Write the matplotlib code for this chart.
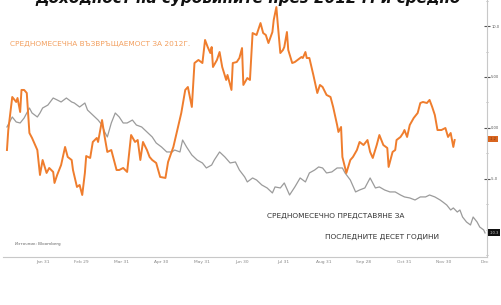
import matplotlib
matplotlib.use("Agg")
import matplotlib.pyplot as plt
from matplotlib.ticker import MultipleLocator

# ---- data (day of year 2012, value in %) ----
orange_days = [4, 5, 8, 11, 12, 14, 15, 17, 19, 20, 21, 23, 27, 29, 31, 34, 36, 39, 40, 42,
               45, 48, 50, 53, 54, 57, 59, 61, 63, 64, 67, 69, 72, 73, 76, 78, 80, 83, 87, 89,
               92, 95, 98, 101, 103, 105, 107, 110, 112, 114, 117, 120, 124, 126, 130, 133, 136, 139, 141, 144,
               146, 149, 152, 154, 156, 158, 159, 160, 163, 165, 167, 170, 171, 174, 175, 178, 180, 182, 183, 186,
               188, 190, 193, 196, 198, 200, 202, 205, 206, 208, 209, 211, 213, 214, 216, 217, 220, 222, 224, 227,
               228, 230, 231, 233, 236, 239, 241, 243, 246, 249, 251, 254, 255, 257, 258, 261, 264, 266, 269, 271,
               274, 277, 279, 281, 284, 286, 289, 292, 293, 296, 298, 299, 302, 304, 305, 307, 309, 312, 315, 317,
               319, 322, 324, 326, 328, 330, 333, 336, 338, 340, 342, 343]
orange_vals = [-2.16, -0.20, 3.04, 2.55, 2.94, 1.57, 3.73, 3.73, 3.43, 1.47, -0.49, -0.98, -2.16, -4.61, -3.14, -4.41, -3.92, -4.31, -5.39, -4.61,
               -3.63, -1.86, -2.84, -3.14, -4.12, -5.78, -5.59, -6.57, -4.41, -2.75, -2.94, -1.37, -0.98, -1.37, 0.78, -0.88, -2.35, -2.16, -4.12, -4.12,
               -3.92, -4.31, -0.69, -1.37, -1.18, -3.14, -1.37, -2.16, -2.84, -3.14, -3.43, -4.80, -4.90, -3.33, -1.86, -0.20, 1.47, 3.73, 4.02, 2.06,
               6.37, 6.67, 6.37, 8.63, 7.94, 7.35, 7.94, 5.98, 6.67, 7.45, 5.98, 4.71, 5.20, 3.73, 6.37, 6.47, 6.86, 7.84, 4.22, 4.90,
               4.71, 9.31, 9.12, 10.29, 9.31, 9.12, 8.33, 9.41, 10.59, 11.86, 10.29, 7.35, 7.65, 7.94, 9.41, 7.65, 6.37, 6.47, 6.67, 6.96,
               6.86, 7.45, 6.86, 6.86, 5.20, 3.43, 4.22, 4.02, 3.24, 3.04, 2.06, 0.29, -0.39, 0.10, -2.84, -4.41, -3.14, -2.84, -2.16, -1.37,
               -1.67, -1.18, -2.35, -2.94, -1.67, -0.69, -1.67, -1.96, -3.82, -2.35, -2.16, -1.18, -0.88, -0.49, -0.20, -0.88, 0.29, 0.98, 1.47, 2.45,
               2.55, 2.45, 2.75, 2.06, 1.27, -0.20, -0.20, 0.00, -0.88, -0.49, -1.86, -1.18]

gray_days = [4, 8, 11, 14, 17, 21, 23, 27, 29, 31, 35, 39, 42, 45, 49, 53, 55, 59, 63, 65,
             69, 73, 76, 78, 80, 83, 86, 89, 92, 95, 99, 102, 106, 110, 114, 117, 121, 125, 129, 131,
             135, 137, 140, 144, 148, 152, 155, 159, 161, 165, 169, 173, 177, 180, 184, 186, 190, 193, 197, 201,
             205, 207, 211, 214, 218, 222, 226, 230, 233, 237, 240, 243, 246, 250, 254, 258, 260, 264, 268, 271,
             275, 279, 283, 286, 290, 294, 298, 302, 305, 309, 313, 317, 321, 324, 328, 332, 334, 337, 340, 342,
             345, 347, 349, 352, 355, 357, 360, 362, 365, 366]
gray_vals = [0.10, 1.08, 0.59, 0.49, 0.98, 1.96, 1.47, 1.08, 1.47, 1.96, 2.25, 2.94, 2.75, 2.55, 2.94, 2.55, 2.45, 2.06, 2.45, 1.76,
             1.27, 0.78, 0.29, -0.39, -0.88, 0.49, 1.47, 1.08, 0.49, 0.49, 0.78, 0.29, 0.10, -0.39, -0.88, -1.47, -1.86, -2.35, -2.35, -2.16,
             -2.35, -1.18, -1.86, -2.65, -3.14, -3.43, -3.92, -3.63, -3.14, -2.35, -2.84, -3.43, -3.33, -4.12, -4.80, -5.29, -4.90, -5.10, -5.59, -5.88,
             -6.37, -5.78, -5.88, -5.39, -6.57, -5.78, -4.90, -5.29, -4.41, -4.12, -3.82, -3.92, -4.41, -4.31, -3.92, -3.92, -4.41, -5.10, -6.27, -6.08,
             -5.88, -4.90, -5.88, -5.78, -6.08, -6.27, -6.27, -6.57, -6.76, -6.86, -7.06, -6.76, -6.76, -6.57, -6.76, -7.06, -7.25, -7.55, -8.04, -7.84,
             -8.24, -8.04, -8.73, -9.22, -9.51, -8.73, -9.22, -9.71, -10.00, -10.29]

month_end_days = [31, 60, 91, 121, 152, 182, 213, 244, 274, 305, 335, 366]
month_labels = ["Jan 31", "Feb 29", "Mar 31", "Apr 30", "May 31", "Jun 30",
                "Jul 31", "Aug 31", "Sep 28", "Oct 31", "Nov 30", "Dec"]
ytick_vals = [10, 5, 0, -5]
ytick_labels = ["10.0", "5.00", "0.00", "-5.0"]

ORANGE = "#ef7d2d"
GRAY = "#9b9b9b"

fig = plt.figure(figsize=(5.01, 3.05), dpi=100)
ax = fig.add_axes([3 / 501, 1 - 257 / 305, 484 / 501, 257 / 305])

ax.plot(gray_days, gray_vals, color=GRAY, lw=0.9, zorder=2)
ax.plot(orange_days, orange_vals, color=ORANGE, lw=1.4, zorder=3)

ax.set_xlim(1, 367.5)
ax.set_ylim(-12.65, 12.55)

for s in ["top", "left"]:
    ax.spines[s].set_visible(False)
ax.spines["right"].set_color("#c8c8c8")
ax.spines["bottom"].set_color("#c8c8c8")
ax.spines["right"].set_linewidth(0.8)
ax.spines["bottom"].set_linewidth(0.8)

ax.yaxis.tick_right()
ax.set_yticks(ytick_vals)
ax.set_yticklabels(ytick_labels)
ax.yaxis.set_minor_locator(MultipleLocator(2.5))
ax.tick_params(axis="y", which="major", direction="inout", length=4, width=0.8,
               colors="#555555", labelsize=2.6, pad=1)
ax.tick_params(axis="y", which="minor", direction="inout", length=2, width=0.5, colors="#999999")

ax.set_xticks(month_end_days)
ax.set_xticklabels(month_labels)
ax.tick_params(axis="x", length=0, labelsize=3.2, colors="#888888", pad=2)

# last-value markers on the right axis
ax.annotate("-1.2", xy=(1.0, orange_vals[-1] + 0.1), xycoords=("axes fraction", "data"),
            xytext=(2, 0), textcoords="offset points", va="center", ha="left", fontsize=2.6,
            color="#7a3a10",
            bbox=dict(boxstyle="square,pad=0.4", fc="#d9651f", ec="none"), annotation_clip=False)
ax.annotate("-10.3", xy=(1.0, gray_vals[-1]), xycoords=("axes fraction", "data"),
            xytext=(2, 0), textcoords="offset points", va="center", ha="left", fontsize=2.6,
            color="#cccccc",
            bbox=dict(boxstyle="square,pad=0.4", fc="#111111", ec="none"), annotation_clip=False)

narrow = ["Liberation Sans Narrow", "DejaVu Sans"]
fig.text(10 / 501, 1 - 44 / 305, "СРЕДНОМЕСЕЧНА ВЪЗВРЪЩАЕМОСТ ЗА 2012Г.", color="#f3a060",
         fontsize=5.3, family=narrow, va="center", ha="left")
fig.text(267 / 501, 1 - 216 / 305, "СРЕДНОМЕСЕЧНО ПРЕДСТАВЯНЕ ЗА", color="#333333",
         fontsize=5.3, family=narrow, va="center", ha="left")
fig.text(325 / 501, 1 - 237 / 305, "ПОСЛЕДНИТЕ ДЕСЕТ ГОДИНИ", color="#333333",
         fontsize=5.3, family=narrow, va="center", ha="left")
fig.text(15 / 501, 1 - 244 / 305, "Източник: Bloomberg", color="#666666",
         fontsize=3, va="center", ha="left")

# clipped headline at the very top
fig.text(35 / 501, 1 - 3 / 305, "Доходност на суровините през 2012 г. и средно",
         fontsize=11, fontweight="bold", fontstyle="italic", color="#111111",
         va="baseline", ha="left")

fig.savefig("out.png", dpi=100, facecolor="white")
